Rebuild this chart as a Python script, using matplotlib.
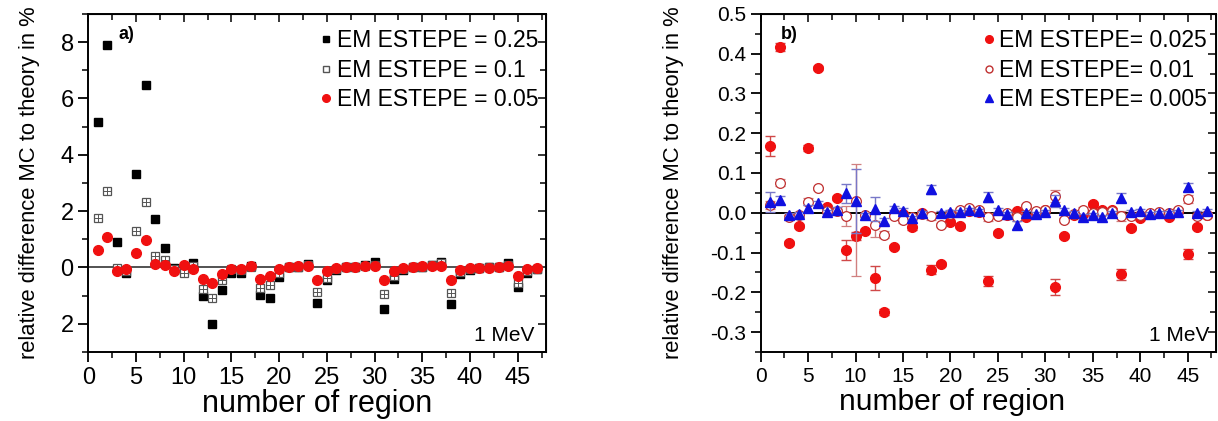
import numpy as np
import matplotlib
matplotlib.use("Agg")
import matplotlib.pyplot as plt
from matplotlib.lines import Line2D
from matplotlib.ticker import MultipleLocator, FormatStrFormatter

plt.rcParams["font.family"] = ["Liberation Sans", "DejaVu Sans"]
plt.rcParams["axes.unicode_minus"] = False

region = np.arange(1, 48)

# panel a): step size 0.25 / 0.1 / 0.05, relative difference in %
a_025 = [5.16, 7.91, 0.89, -0.20, 3.32, 6.46, 1.72, 0.68, -0.02, -0.10,
         0.15, -1.00, -2.02, -0.80, -0.18, -0.20, 0.04, -0.97, -1.08, -0.33,
         0.00, 0.00, 0.13, -1.27, -0.45, -0.10, 0.00, 0.00, 0.10, 0.18,
         -1.49, -0.42, -0.08, 0.00, 0.02, 0.10, 0.20, -1.29, -0.22, -0.08,
         -0.02, 0.00, 0.00, 0.15, -0.68, -0.20, -0.06]
a_010 = [1.76, 2.70, -0.02, -0.14, 1.28, 2.34, 0.42, 0.27, -0.06, -0.18,
         0.05, -0.77, -1.07, -0.44, -0.06, -0.10, 0.03, -0.74, -0.62, -0.20,
         0.00, 0.02, 0.09, -0.87, -0.36, -0.06, 0.00, 0.00, 0.06, 0.10,
         -0.94, -0.32, -0.05, 0.00, 0.02, 0.08, 0.15, -0.89, -0.15, -0.05,
         -0.01, 0.00, 0.00, 0.10, -0.56, -0.12, -0.04]
a_005 = [0.63, 1.09, -0.11, -0.06, 0.52, 0.98, 0.12, 0.09, -0.11, 0.09,
         -0.06, -0.42, -0.56, -0.23, -0.06, -0.06, 0.05, -0.40, -0.30, -0.05,
         0.01, 0.04, 0.04, -0.44, -0.14, -0.02, 0.01, 0.01, 0.04, 0.05,
         -0.44, -0.12, -0.02, 0.01, 0.04, 0.06, 0.04, -0.46, -0.08, -0.02,
         -0.02, -0.01, 0.00, 0.04, -0.32, -0.05, -0.02]

# panel b): step size 0.025 / 0.01 / 0.005 with statistical errors
b_0025 = [0.168, 0.417, -0.077, -0.034, 0.163, 0.364, 0.015, 0.036, -0.094, -0.058,
          -0.045, -0.163, -0.250, -0.086, -0.002, -0.035, -0.001, -0.143, -0.128, -0.024,
          -0.033, 0.005, 0.003, -0.172, -0.052, -0.006, 0.004, -0.010, 0.000, 0.008,
          -0.186, -0.059, -0.006, -0.003, 0.021, 0.007, 0.008, -0.155, -0.039, -0.014,
          -0.004, 0.000, -0.010, 0.005, -0.104, -0.035, -0.006]
b_0025_err = [0.025, 0.010, 0.005, 0.005, 0.008, 0.005, 0.005, 0.005, 0.025, 0.010,
              0.005, 0.030, 0.008, 0.005, 0.005, 0.008, 0.005, 0.012, 0.005, 0.005,
              0.005, 0.005, 0.005, 0.013, 0.005, 0.005, 0.005, 0.005, 0.005, 0.005,
              0.020, 0.005, 0.005, 0.005, 0.005, 0.005, 0.005, 0.013, 0.005, 0.005,
              0.005, 0.005, 0.005, 0.005, 0.012, 0.005, 0.005]
b_001 = [0.020, 0.076, -0.010, -0.006, 0.028, 0.061, 0.005, 0.005, -0.008, 0.030,
         -0.005, -0.031, -0.055, -0.007, -0.017, -0.010, -0.002, -0.009, -0.031, -0.002,
         0.007, 0.013, 0.007, -0.010, -0.008, 0.000, -0.010, 0.017, 0.005, 0.006,
         0.042, -0.017, -0.003, 0.007, 0.000, 0.003, 0.004, -0.008, -0.008, -0.006,
         0.000, 0.002, 0.000, 0.007, 0.034, -0.008, -0.006]
b_001_lo = [0.010, 0.008, 0.005, 0.005, 0.008, 0.005, 0.005, 0.005, 0.025, 0.190,
            0.005, 0.030, 0.008, 0.005, 0.008, 0.005, 0.005, 0.010, 0.005, 0.005,
            0.005, 0.005, 0.005, 0.010, 0.005, 0.005, 0.010, 0.005, 0.005, 0.005,
            0.015, 0.005, 0.005, 0.008, 0.005, 0.005, 0.005, 0.012, 0.005, 0.005,
            0.005, 0.005, 0.005, 0.005, 0.010, 0.005, 0.005]
b_001_hi = [0.010, 0.008, 0.005, 0.005, 0.008, 0.005, 0.005, 0.005, 0.025, 0.092,
            0.005, 0.030, 0.008, 0.005, 0.008, 0.005, 0.005, 0.010, 0.005, 0.005,
            0.005, 0.005, 0.005, 0.010, 0.005, 0.005, 0.010, 0.005, 0.005, 0.005,
            0.015, 0.005, 0.005, 0.008, 0.005, 0.005, 0.005, 0.012, 0.005, 0.005,
            0.005, 0.005, 0.005, 0.005, 0.010, 0.005, 0.005]
b_0005 = [0.028, 0.032, -0.006, -0.002, 0.011, 0.024, 0.003, 0.007, 0.049, 0.030,
          -0.006, 0.010, -0.020, 0.011, 0.004, -0.013, 0.000, 0.059, -0.001, 0.002,
          0.001, 0.007, 0.004, 0.040, 0.007, -0.003, -0.031, 0.000, -0.003, 0.003,
          0.030, 0.007, 0.000, -0.010, -0.006, -0.010, 0.000, 0.038, 0.001, 0.005,
          -0.004, 0.000, 0.000, 0.002, 0.065, -0.001, 0.005]
b_0005_err = [0.025, 0.010, 0.005, 0.005, 0.008, 0.005, 0.005, 0.008, 0.024, 0.080,
              0.005, 0.030, 0.008, 0.005, 0.008, 0.005, 0.005, 0.012, 0.005, 0.005,
              0.005, 0.005, 0.005, 0.012, 0.005, 0.005, 0.010, 0.005, 0.005, 0.005,
              0.015, 0.005, 0.005, 0.008, 0.005, 0.005, 0.005, 0.012, 0.005, 0.005,
              0.005, 0.005, 0.005, 0.005, 0.010, 0.005, 0.005]

a_labels = ["EM ESTEPE = 0.25", "EM ESTEPE = 0.1", "EM ESTEPE = 0.05"]
b_labels = ["EM ESTEPE= 0.025", "EM ESTEPE= 0.01", "EM ESTEPE= 0.005"]

RED = "#f01010"
DARKRED = "#c03030"
BLUE = "#1010e0"
GREY = "#555555"


def frame(ax, xmaj, ymaj, ymin, tick_fs):
    ax.set_xlim(0, 48)
    ax.xaxis.set_major_locator(MultipleLocator(xmaj))
    ax.xaxis.set_minor_locator(MultipleLocator(xmaj / 2))
    ax.yaxis.set_major_locator(MultipleLocator(ymaj))
    ax.yaxis.set_minor_locator(MultipleLocator(ymin))
    for s in ax.spines.values():
        s.set_linewidth(1.4)
    ax.tick_params(which="major", direction="out", length=7, width=1.3,
                   labelsize=tick_fs)
    ax.tick_params(which="minor", direction="out", length=4, width=1.1)
    # mirrored ticks point inward, no labels
    top = ax.secondary_xaxis("top")
    top.xaxis.set_major_locator(MultipleLocator(xmaj))
    top.xaxis.set_minor_locator(MultipleLocator(xmaj / 2))
    top.tick_params(which="both", direction="in", labeltop=False, width=1.1)
    top.tick_params(which="major", length=6)
    top.tick_params(which="minor", length=4)
    right = ax.secondary_yaxis("right")
    right.yaxis.set_major_locator(MultipleLocator(ymaj))
    right.yaxis.set_minor_locator(MultipleLocator(ymin))
    right.tick_params(which="both", direction="in", labelright=False, width=1.1)
    right.tick_params(which="major", length=6)
    right.tick_params(which="minor", length=4)


fig = plt.figure(figsize=(12.18, 4.21), dpi=100)

# ---- a) -----------------------------------------------------------------
ax1 = fig.add_axes([0.0725, 0.164, 0.376, 0.803])
ax1.axhline(0, color="#444444", lw=1.3, zorder=1)
ax1.plot(region, a_025, "s", ms=5.5, color="black", mec="black", zorder=3)
ax1.plot(region, a_010, "s", ms=5.5, mfc="white", mec=GREY, mew=0.9, zorder=4)
ax1.plot(region, a_010, "+", ms=5.5, mec=GREY, mew=0.7, zorder=4)
ax1.plot(region, a_005, "o", ms=7, color=RED, mec=RED, zorder=5)
ax1.set_ylim(-3, 9)
frame(ax1, 5, 2, 1, 17)
ax1.set_yticks([-2, 0, 2, 4, 6, 8])
ax1.set_yticklabels(["2", "0", "2", "4", "6", "8"])
ax1.set_xlabel("number of region", fontsize=22, labelpad=0)
ax1.set_ylabel("relative difference MC to theory in %", fontsize=15.8,
               labelpad=15)
ax1.text(0.065, 0.965, "a)", transform=ax1.transAxes, fontsize=13,
         fontweight="bold", va="top")
ax1.text(0.975, 0.02, "1 MeV", transform=ax1.transAxes, fontsize=15,
         ha="right", va="bottom")
h1 = [Line2D([], [], ls="none", marker="s", ms=4.5, color="black"),
      Line2D([], [], ls="none", marker="s", ms=4.5, mfc="white", mec=GREY),
      Line2D([], [], ls="none", marker="o", ms=5.5, color=RED)]
ax1.legend(h1, a_labels, loc="upper right", bbox_to_anchor=(1.012, 0.995),
           frameon=False, fontsize=16.5, handlelength=0.5,
           handletextpad=0.2, labelspacing=0.28, borderaxespad=0.2)

# ---- b) -----------------------------------------------------------------
ax2 = fig.add_axes([0.6245, 0.164, 0.374, 0.803])
ax2.axhline(0, color="black", lw=1.4, zorder=1)
ax2.errorbar(region, b_0025, yerr=b_0025_err, fmt="o", ms=7, color=RED,
             mec=RED, ecolor="#d04848", elinewidth=1, capsize=3.5, zorder=3)
ax2.errorbar(region, b_001, yerr=[b_001_lo, b_001_hi], fmt="o", ms=7,
             mfc="white", mec=DARKRED, mew=0.9, ecolor="#d08080",
             elinewidth=1, capsize=3.5, zorder=4)
ax2.errorbar(region, b_0005, yerr=b_0005_err, fmt="^", ms=7.5, color=BLUE,
             mec=BLUE, ecolor="#7878c8", elinewidth=1, capsize=3.5, zorder=5)
ax2.set_ylim(-0.35, 0.5)
frame(ax2, 5, 0.1, 0.05, 15)
ax2.yaxis.set_major_formatter(FormatStrFormatter("%.1f"))
ax2.set_xlabel("number of region", fontsize=21.5)
ax2.xaxis.set_label_coords(0.42, -0.108)
ax2.set_ylabel("relative difference MC to theory in %", fontsize=15.8,
               labelpad=19)
ax2.text(0.045, 0.965, "b)", transform=ax2.transAxes, fontsize=13,
         fontweight="bold", va="top")
ax2.text(0.985, 0.02, "1 MeV", transform=ax2.transAxes, fontsize=15,
         ha="right", va="bottom")
h2 = [Line2D([], [], ls="none", marker="o", ms=5.5, color=RED),
      Line2D([], [], ls="none", marker="o", ms=5, mfc="white", mec=DARKRED),
      Line2D([], [], ls="none", marker="^", ms=6, color=BLUE)]
ax2.legend(h2, b_labels, loc="upper right", bbox_to_anchor=(1.01, 0.995),
           frameon=False, fontsize=16.5, handlelength=0.5,
           handletextpad=0.2, labelspacing=0.28, borderaxespad=0.2)

fig.savefig("out.png", dpi=100)
